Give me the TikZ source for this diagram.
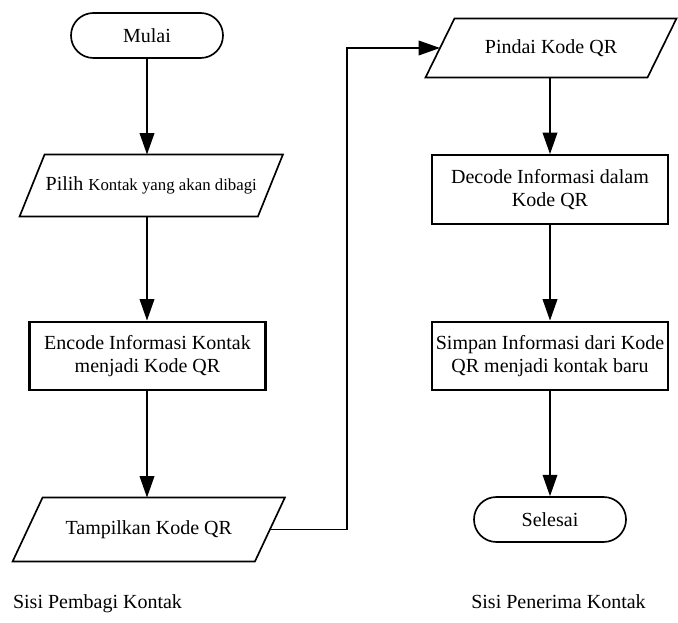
\documentclass[tikz,border=0pt]{standalone}
\usepackage{fontspec}
\setmainfont{LiberationSerif}[Extension=.ttf, UprightFont=*-Regular, BoldFont=*-Bold, ItalicFont=*-Italic, BoldItalicFont=*-BoldItalic]
\usetikzlibrary{arrows.meta}

\tikzset{every picture/.style={line width=0.75pt}}
\tikzset{
  txt/.style={font=\fontsize{15}{17}\selectfont},
  terminal/.style={txt, draw, line width=1.25pt, rounded corners=16.8pt, minimum width=114pt, minimum height=33.75pt, inner sep=0.75pt},
  process/.style={txt, draw, line width=1.7pt, minimum width=177pt, minimum height=51.5pt, align=center, inner sep=0.75pt},
  inout/.style={txt, inner sep=0.75pt},
  ioline/.style={line width=1.25pt, line join=miter},
  flow/.style={line width=1pt, -{Triangle[length=16pt,width=11pt]}},
}

\begin{document}
\begin{tikzpicture}[x=0.75pt,y=0.75pt,yscale=-1,xscale=1]
\useasboundingbox (0,0) rectangle (678,623);

%Shape: Terminal [id:mulai]
\node [terminal] (mulai) at (147,35.5) {Mulai};
%Shape: Data [id:pilih]
\node [inout, minimum width=178pt, minimum height=45.75pt] (pilih) at (151.25,185.5) {Pilih {\fontsize{12.6}{15}\selectfont Kontak yang akan dibagi}};
\draw [ioline] ([xshift=9.375pt]pilih.north west) -- ([xshift=9.375pt]pilih.north east) -- ([xshift=-9.375pt]pilih.south east) -- ([xshift=-9.375pt]pilih.south west) -- cycle ;
%Shape: Process [id:encode]
\node [process] (encode) at (147.5,356) {Encode Informasi Kontak\\menjadi Kode QR};
%Shape: Data [id:tampil]
\node [inout, minimum width=181pt, minimum height=47.25pt] (tampil) at (148.75,529.5) {Tampilkan Kode QR};
\draw [ioline] ([xshift=11.25pt]tampil.north west) -- ([xshift=11.25pt]tampil.north east) -- ([xshift=-11.25pt]tampil.south east) -- ([xshift=-11.25pt]tampil.south west) -- cycle ;

%Shape: Data [id:pindai]
\node [inout, minimum width=165.75pt, minimum height=43.5pt] (pindai) at (551,48) {Pindai Kode QR};
\draw [ioline] ([xshift=10.875pt]pindai.north west) -- ([xshift=10.875pt]pindai.north east) -- ([xshift=-10.875pt]pindai.south east) -- ([xshift=-10.875pt]pindai.south west) -- cycle ;
%Shape: Process [id:decode]
\node [process] (decode) at (550,189.5) {Decode Informasi dalam\\Kode QR};
%Shape: Process [id:simpan]
\node [process] (simpan) at (550,356) {Simpan Informasi dari Kode\\QR menjadi kontak baru};
%Shape: Terminal [id:selesai]
\node [terminal] (selesai) at (550,519.5) {Selesai};

%Straight Lines
\draw [flow] (mulai.south) -- (mulai.south |- pilih.north);
\draw [flow] (pilih.south -| mulai.south) -- (mulai.south |- encode.north);
\draw [flow] (encode.south -| mulai.south) -- (mulai.south |- tampil.north);
%Elbow Line
\coordinate (bend) at (347,48);
\draw [flow] (tampil.east) -| (bend) |- (pindai.west);
\draw [flow] (pindai.south -| decode.north) -- (decode.north);
\draw [flow] (decode.south) -- (simpan.north);
\draw [flow] (simpan.south) -- (selesai.north);

% Text Node
\node [txt, anchor=base] (capkiri) at (97.5,608) {Sisi Pembagi Kontak};
% Text Node
\node [txt, anchor=base] (capkanan) at (558.5,608) {Sisi Penerima Kontak};

\end{tikzpicture}
\end{document}
